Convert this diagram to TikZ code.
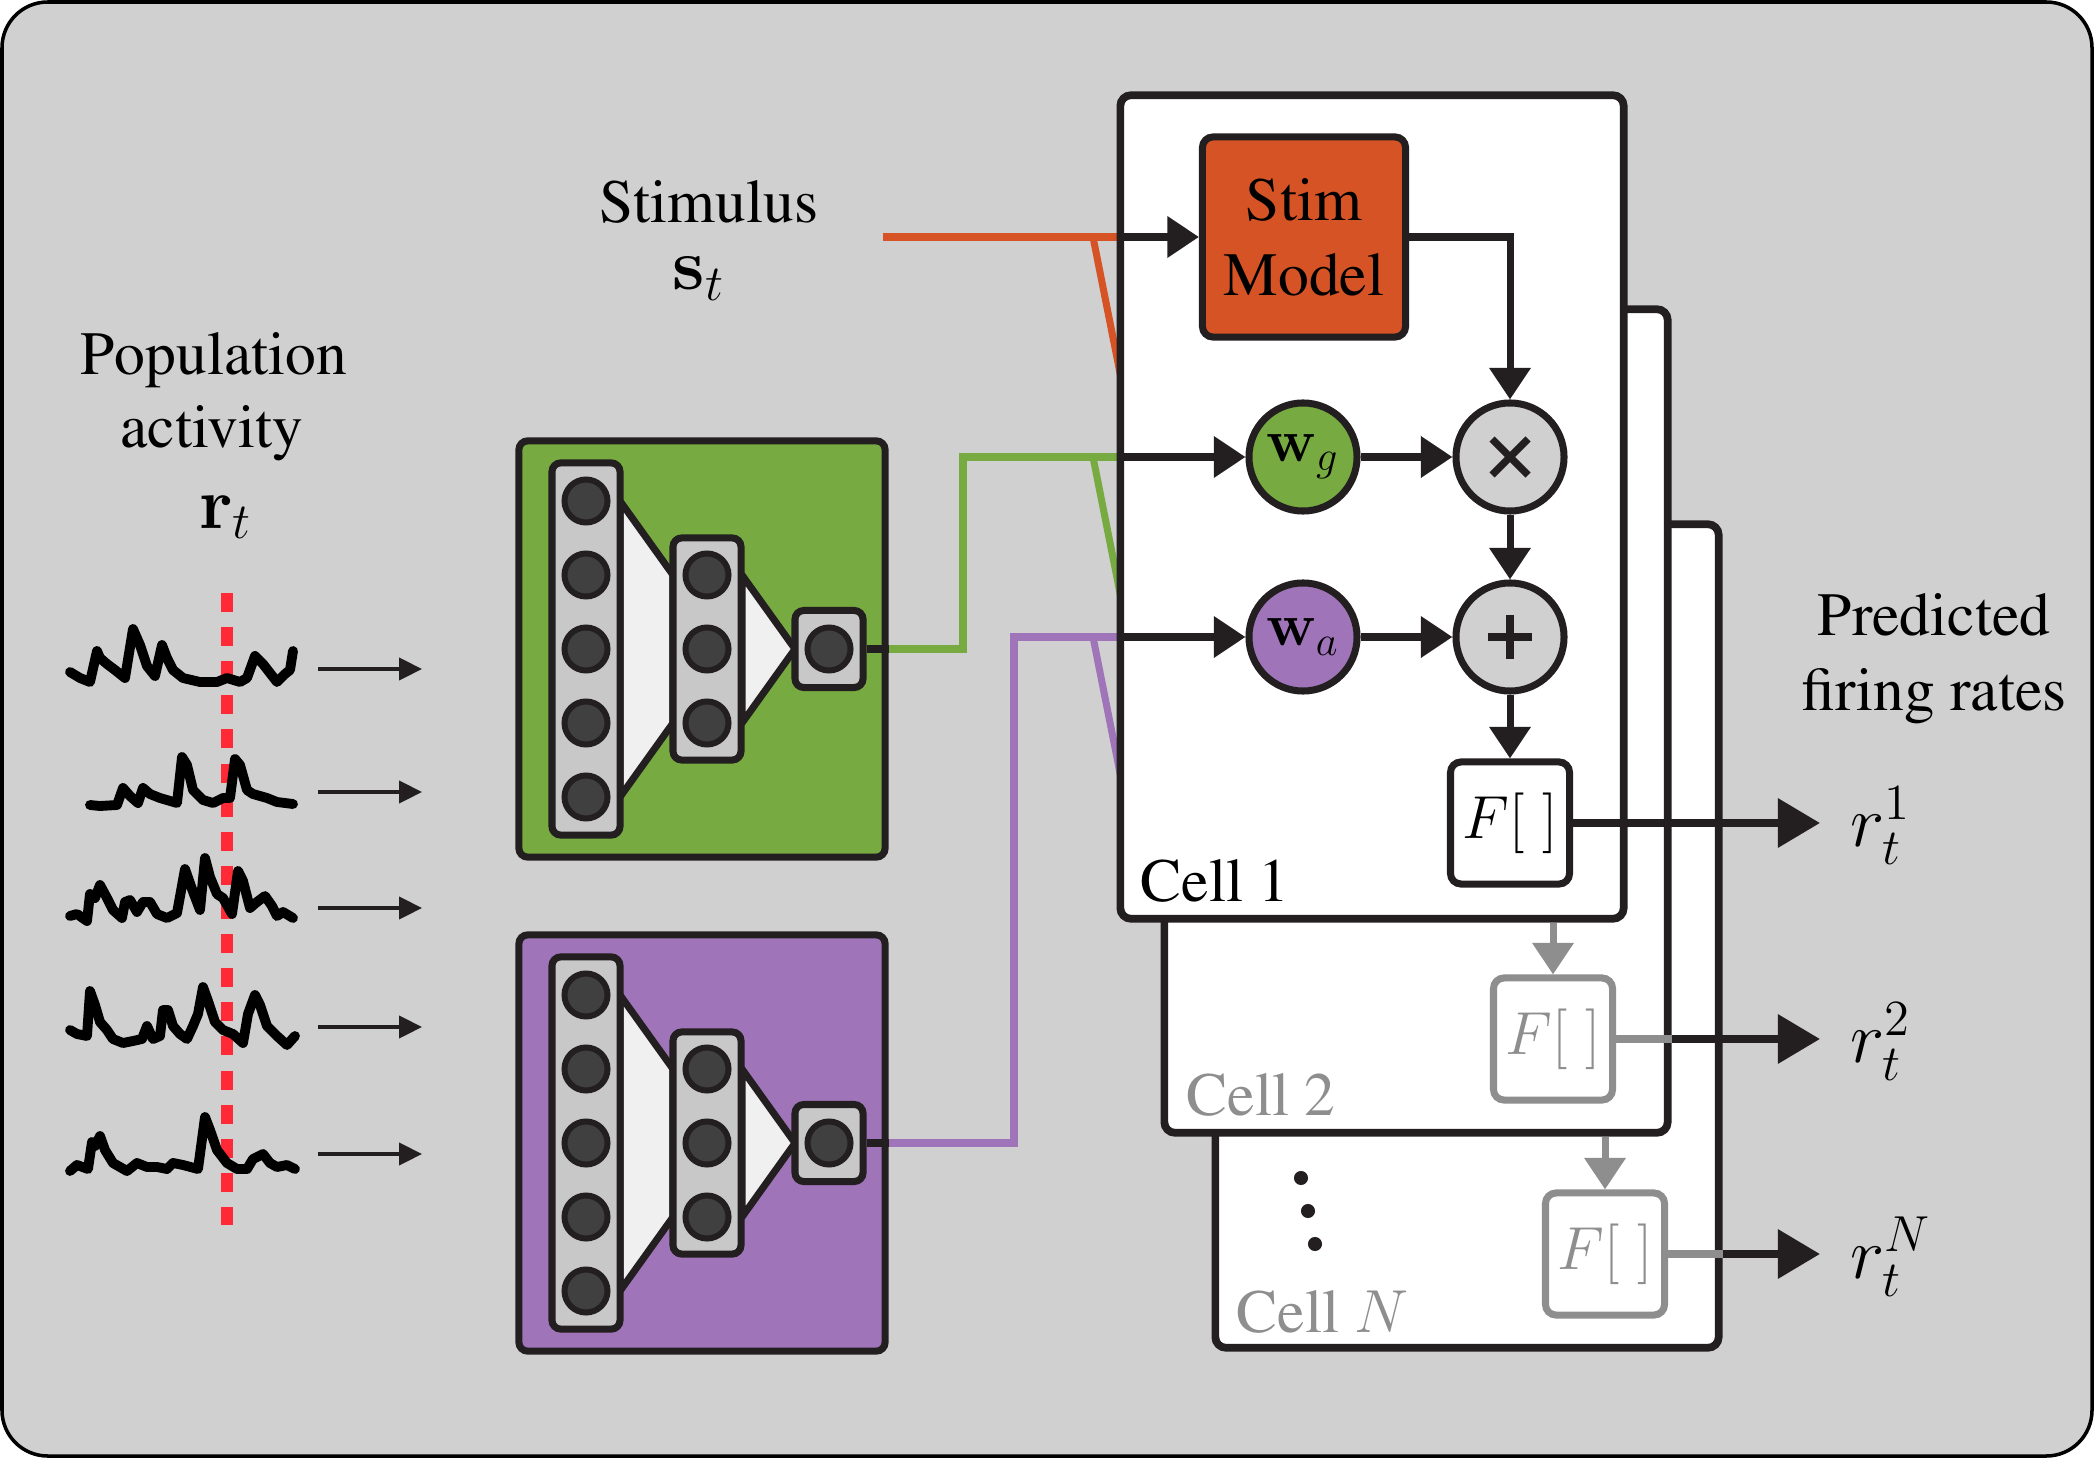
\documentclass[tikz,border=0pt]{standalone}
\usepackage[T1]{fontenc}
\renewcommand{\rmdefault}{ptm}
\usepackage{amsmath}
\usetikzlibrary{arrows.meta,positioning,calc}

\definecolor{inkc}{HTML}{231F20}
\definecolor{bgc}{HTML}{D0D0D0}
\definecolor{greenc}{HTML}{77AA41}
\definecolor{purplec}{HTML}{A074B8}
\definecolor{orangec}{HTML}{D65326}
\definecolor{layerc}{HTML}{C8C8C8}
\definecolor{neuronc}{HTML}{404040}
\definecolor{fanc}{HTML}{F0F0F0}
\definecolor{fadec}{HTML}{8E8E8E}
\definecolor{dashc}{HTML}{FF2A35}

\tikzset{
    lbl/.style={font=\fontsize{17.5}{21}\selectfont, inner sep=0pt},
    netbox/.style={draw=inkc, line width=2pt, rounded corners=2.5pt, minimum width=3.66cm, minimum height=4.16cm},
    layerbox/.style={draw=inkc, fill=layerc, line width=2pt, rounded corners=2.5pt, minimum width=0.68cm},
    neuron/.style={circle, draw=inkc, fill=neuronc, line width=1.7pt, minimum size=0.43cm, inner sep=0pt},
    fan/.style={fill=fanc, draw=inkc, line width=2pt, line join=round},
    cellbox/.style={draw=inkc, fill=white, line width=2.2pt, rounded corners=3pt, minimum width=5.03cm, minimum height=8.23cm},
    stimbox/.style={draw=inkc, fill=orangec, line width=2pt, rounded corners=3pt, minimum width=2.03cm, minimum height=2cm, align=center, font=\fontsize{17.5}{21.3}\selectfont},
    opnode/.style={circle, draw=inkc, fill=bgc, line width=2pt, minimum size=1.08cm, inner sep=0pt, font=\fontsize{18}{21}\selectfont},
    fbox/.style={draw=inkc, fill=white, line width=2pt, rounded corners=3pt, minimum width=1.19cm, minimum height=1.22cm, inner sep=0pt, font=\fontsize{17.5}{21}\selectfont},
    opstroke/.style={draw=inkc, line width=2.1pt},
    flow/.style={color=inkc, line width=2pt, -{Triangle[length=9pt,width=11.4pt]}},
    outflow/.style={color=inkc, line width=2.2pt, shorten >=0.3cm, -{Triangle[length=12pt,width=13.6pt]}},
    tracearrow/.style={color=inkc, line width=0.9pt, -{Triangle[length=6.5pt,width=6.3pt]}},
    trace/.style={draw=black, line width=2.8pt, line join=round, line cap=round},
    wire/.style={line width=2pt},
    outlbl/.style={anchor=base west, inner sep=0pt, font=\fontsize{22}{26}\selectfont},
}

\begin{document}
\begin{tikzpicture}[x=0.01cm,y=-0.01cm]
        \useasboundingbox (0,0) rectangle (2094,1458);
        \draw [fill=bgc, draw=black, line width=1pt, rounded corners=13pt] (2,2) rectangle (2092,1456);

        \node [lbl, anchor=base] (Pop) at (214,375) {Population};
        \node [lbl, anchor=base] (Act) at (212,448) {activity};
        \node [lbl, anchor=base, font=\fontsize{20}{24}\selectfont] (Rt) at (226,528) {$\mathbf{r}_t$};
        \node [lbl, anchor=base] (Stimulus) at (709,223) {Stimulus};
        \node [lbl, anchor=base, font=\fontsize{20}{24}\selectfont] (St) at (699,290) {$\mathbf{s}_t$};
        \node [lbl, anchor=base] (Pred) at (1934,635) {Predicted};
        \node [lbl, anchor=base] (Fire) at (1934,710) {firing rates};

        \draw [dashc, line width=3.4pt, dash pattern=on 5.4pt off 4.3pt] (227,593) -- (227,1225);
        \draw [trace] plot coordinates {(70,672) (80,678) (90,682) (97,651) (100,658) (107,664) (115,670) (125,678) (133,629) (140,645) (147,666) (155,676) (162,645) (167,658) (173,670) (183,678) (200,682) (217,682) (227,678) (240,682) (247,678) (255,656) (263,664) (277,682) (285,674) (290,670) (293,651)};
        \draw [trace] plot coordinates {(90,805) (100,806) (117,805) (123,788) (130,796) (138,803) (143,788) (150,794) (160,798) (177,803) (182,757) (187,765) (193,790) (203,800) (213,803) (223,798) (230,798) (235,759) (240,765) (247,790) (253,794) (267,798) (277,802) (293,804)};
        \draw [trace] plot coordinates {(70,916) (77,914) (87,921) (90,894) (95,898) (100,885) (107,898) (113,910) (122,918) (125,902) (130,900) (137,912) (143,902) (150,902) (157,914) (167,918) (177,913) (185,869) (192,889) (200,910) (205,858) (210,877) (217,894) (223,898) (232,914) (238,871) (243,881) (250,908) (257,902) (265,896) (272,906) (277,916) (283,912) (293,918)};
        \draw [trace] plot coordinates {(70,1030) (77,1034) (87,1036) (90,991) (95,1005) (100,1022) (107,1030) (113,1039) (123,1043) (133,1041) (142,1039) (147,1026) (153,1039) (160,1036) (163,1010) (168,1010) (173,1026) (180,1034) (187,1039) (193,1026) (198,1014) (203,987) (208,1001) (215,1022) (223,1030) (233,1034) (243,1043) (248,1014) (255,995) (260,1005) (267,1026) (277,1036) (287,1045) (295,1036)};
        \draw [trace] plot coordinates {(70,1171) (77,1165) (88,1169) (92,1142) (95,1146) (100,1136) (105,1150) (113,1163) (127,1171) (137,1163) (147,1167) (157,1167) (167,1169) (173,1163) (183,1165) (198,1169) (205,1117) (210,1130) (217,1150) (227,1163) (237,1169) (247,1169) (253,1159) (263,1154) (270,1163) (277,1167) (287,1165) (295,1169)};
        \foreach \ty [count=\i] in {669,792,908,1027,1154} {
            \coordinate (T\i) at (318,\ty);
            \coordinate (T\i e) at (422,\ty);
            \draw [tracearrow] (T\i) -- (T\i e);
        }

        \foreach \cy/\col/\nm in {649/greenc/G,1143/purplec/A} {
            \node [netbox, fill=\col] (\nm net) at (702,\cy) {};
            \draw [fan] (620,\cy-148) -- (673,\cy-74) -- (673,\cy+74) -- (620,\cy+148) -- cycle;
            \draw [fan] (742,\cy-74) -- (795,\cy) -- (742,\cy+74) -- cycle;
            \node [layerbox, minimum height=3.72cm] (\nm in) at (586,\cy) {};
            \node [layerbox, minimum height=2.22cm] (\nm hid) at (707,\cy) {};
            \node [layerbox, minimum height=0.77cm] (\nm out) at (829,\cy) {};
            \foreach \k in {-2,...,2}
                \node [neuron] (\nm in\k) at (586,\cy+74*\k) {};
            \foreach \k in {-1,0,1}
                \node [neuron] (\nm hid\k) at (707,\cy+74*\k) {};
            \node [neuron] (\nm o) at (829,\cy) {};
            \draw [inkc, line width=2.4pt] (\nm out.east) -- (\nm net.east |- \nm out.east) coordinate (\nm tap);
        }

        \coordinate (Ssrc) at (883,237);
        \coordinate (Sin) at (1120,237);
        \coordinate (Gknee) at (963,457);
        \coordinate (Gin) at (1120,457);
        \coordinate (Aknee) at (1014,637);
        \coordinate (Ain) at (1120,637);
        \draw [wire, orangec] (Ssrc) -- (Sin);
        \draw [wire, greenc] (Gtap) -| (Gknee) -- (Gin);
        \draw [wire, purplec] (Atap) -| (Aknee) -- (Ain);
        \foreach \fy/\col in {237/orangec,457/greenc,637/purplec}
            \draw [wire, \col] (1093,\fy) -- ++(28,141);

        \node [cellbox] (CN) at (1467,936) {};
        \node [cellbox] (C2) at (1416,721) {};
        \node [cellbox] (C1) at (1372,507) {};
        \node [lbl, anchor=base west] (C1l) at (1140,901) {Cell 1};
        \node [lbl, anchor=base west, text=fadec] (C2l) at (1186,1115) {Cell 2};
        \node [lbl, anchor=base west, text=fadec] (CNl) at (1236,1332) {Cell $N$};
        \foreach \px/\py in {1301/1178,1308/1211,1315/1244}
            \fill [inkc] (\px,\py) circle (2pt);

        \node [stimbox] (Stim) at (1304,237) {Stim\\Model};
        \node [opnode, fill=greenc] (Wg) at (1303,457) {$\mathbf{w}_g$};
        \node [opnode] (Mul) at (1510,457) {};
        \node [opnode, fill=purplec] (Wa) at (1303,637) {$\mathbf{w}_a$};
        \node [opnode] (Add) at (1510,637) {};
        \node [fbox] (F1) at (1510,823) {$F[\hspace{5pt}]$};
        \node [fbox, draw=fadec, text=fadec] (F2) at (1553,1039) {$F[\hspace{5pt}]$};
        \node [fbox, draw=fadec, text=fadec] (FN) at (1605,1254) {$F[\hspace{5pt}]$};
        \draw [opstroke] ($(Mul.center)+(-18,-18)$) -- ($(Mul.center)+(18,18)$) ($(Mul.center)+(-18,18)$) -- ($(Mul.center)+(18,-18)$);
        \draw [opstroke] ($(Add.center)+(-22,0)$) -- ($(Add.center)+(22,0)$) ($(Add.center)+(0,-22)$) -- ($(Add.center)+(0,22)$);

        \draw [flow] (Sin) -- (Stim.west);
        \draw [flow] (Gin) -- (Wg.west);
        \draw [flow] (Ain) -- (Wa.west);
        \draw [flow] (Wg.east) -- (Mul.west);
        \draw [flow] (Wa.east) -- (Add.west);
        \draw [flow] (Stim.east) -| (Mul.north);
        \draw [flow] (Mul.south) -- (Add.north);
        \draw [flow] (Add.south) -- (F1.north);
        \draw [flow, fadec] (C1.south -| F2.north) -- (F2.north);
        \draw [flow, fadec] (C2.south -| FN.north) -- (FN.north);

        \node [outlbl] (R1) at (1850,846) {$r_t^1$};
        \node [outlbl] (R2) at (1850,1062) {$r_t^2$};
        \node [outlbl] (RN) at (1850,1278) {$r_t^N$};
        \draw [outflow] (F1.east) -- (F1.east -| R1.west);
        \draw [wire, fadec] (F2.east) -- (F2.east -| C2.east);
        \draw [outflow] (F2.east -| C2.east) -- (F2.east -| R2.west);
        \draw [wire, fadec] (FN.east) -- (FN.east -| CN.east);
        \draw [outflow] (FN.east -| CN.east) -- (FN.east -| RN.west);
    \end{tikzpicture}
\end{document}
